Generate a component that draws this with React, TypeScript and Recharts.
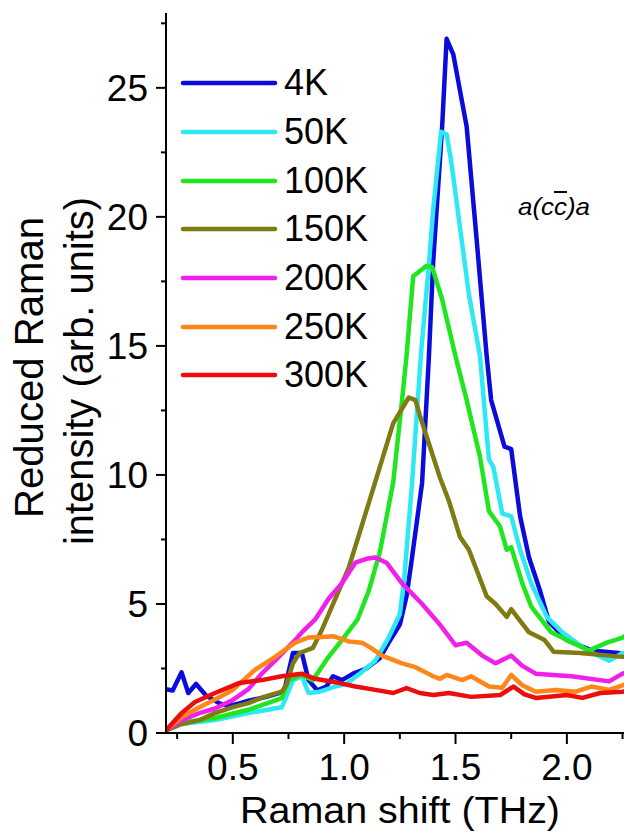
import { Label, Legend, Line, LineChart, XAxis, YAxis } from "recharts"

const FONT = "'Liberation Sans', Arial, sans-serif"

// Raman shift (THz) and reduced intensity
const x4K = [0.2, 0.23, 0.27, 0.3, 0.335, 0.38, 0.44, 0.48, 0.53, 0.57, 0.65, 0.73, 0.77, 0.81, 0.84, 0.88, 0.92, 0.95, 0.99, 1.04, 1.1, 1.16, 1.2, 1.25, 1.28, 1.3, 1.35, 1.38, 1.4, 1.44, 1.46, 1.49, 1.55, 1.59, 1.64, 1.66, 1.72, 1.75, 1.79, 1.83, 1.88, 1.92, 2.0, 2.11, 2.23, 2.27]
const y4K = [1.7, 1.65, 2.35, 1.55, 1.9, 1.45, 1.15, 1.05, 1.15, 1.25, 1.4, 1.6, 3.1, 3.1, 2.05, 1.65, 1.8, 2.2, 2.05, 2.3, 2.5, 2.9, 3.5, 4.2, 5.3, 6.5, 9.7, 14.5, 18.3, 23.5, 26.9, 26.3, 23.5, 19.6, 14.6, 12.9, 11.1, 11.0, 8.4, 6.8, 5.5, 4.3, 3.6, 3.2, 3.1, 3.0]

const x50K = [0.2, 0.27, 0.42, 0.57, 0.72, 0.74, 0.77, 0.81, 0.84, 0.89, 0.96, 1.01, 1.07, 1.14, 1.2, 1.25, 1.27, 1.305, 1.345, 1.38, 1.4, 1.435, 1.46, 1.48, 1.52, 1.56, 1.61, 1.65, 1.67, 1.71, 1.75, 1.79, 1.84, 1.91, 1.98, 2.09, 2.19, 2.25, 2.27]
const y50K = [0.1, 0.35, 0.5, 0.77, 1.0, 1.4, 2.05, 2.2, 1.55, 1.6, 1.8, 1.9, 2.3, 2.8, 3.7, 4.6, 6.0, 9.7, 14.7, 18.1, 20.3, 23.3, 23.2, 22.2, 19.6, 17.0, 14.6, 10.6, 10.3, 8.5, 8.4, 7.1, 5.8, 4.5, 3.9, 3.2, 2.8, 3.1, 3.1]

const x100K = [0.2, 0.27, 0.42, 0.57, 0.72, 0.75, 0.81, 0.86, 0.93, 0.99, 1.06, 1.11, 1.16, 1.22, 1.26, 1.28, 1.31, 1.34, 1.37, 1.395, 1.44, 1.47, 1.5, 1.55, 1.61, 1.65, 1.7, 1.73, 1.75, 1.8, 1.84, 1.93, 2.0, 2.1, 2.18, 2.25, 2.27]
const y100K = [0.1, 0.4, 0.58, 0.9, 1.35, 2.05, 2.25, 2.05, 2.95, 3.6, 4.4, 5.5, 7.0, 9.7, 12.9, 14.6, 17.7, 17.9, 18.1, 18.05, 16.8, 15.7, 14.6, 12.9, 10.7, 8.6, 8.0, 7.1, 7.2, 5.8, 4.9, 3.9, 3.6, 3.2, 3.5, 3.7, 3.8]

const x150K = [0.2, 0.27, 0.35, 0.42, 0.5, 0.57, 0.64, 0.72, 0.74, 0.77, 0.8, 0.86, 0.9, 0.96, 1.02, 1.06, 1.11, 1.16, 1.22, 1.29, 1.32, 1.34, 1.43, 1.47, 1.52, 1.56, 1.64, 1.68, 1.73, 1.75, 1.785, 1.83, 1.9, 1.94, 2.06, 2.25, 2.27]
const y150K = [0.1, 0.35, 0.5, 0.77, 1.0, 1.16, 1.4, 1.6, 1.86, 2.7, 3.1, 3.3, 4.0, 5.2, 6.4, 7.5, 8.9, 10.3, 12.0, 13.0, 12.9, 12.3, 9.9, 9.0, 7.6, 7.1, 5.3, 5.0, 4.5, 4.8, 4.4, 3.9, 3.6, 3.15, 3.1, 2.95, 2.95]

const x200K = [0.2, 0.27, 0.35, 0.42, 0.5, 0.57, 0.63, 0.69, 0.74, 0.78, 0.81, 0.87, 0.93, 0.99, 1.05, 1.1, 1.14, 1.19, 1.26, 1.35, 1.43, 1.5, 1.55, 1.62, 1.68, 1.75, 1.8, 1.86, 2.02, 2.19, 2.25, 2.27]
const y200K = [0.1, 0.5, 0.77, 0.95, 1.28, 1.7, 2.3, 2.8, 3.25, 3.6, 3.9, 4.4, 5.2, 5.8, 6.6, 6.75, 6.8, 6.6, 5.8, 5.0, 4.2, 3.4, 3.5, 3.0, 2.7, 3.0, 2.6, 2.3, 2.2, 2.0, 2.3, 2.35]

const x250K = [0.2, 0.27, 0.35, 0.42, 0.5, 0.6, 0.69, 0.78, 0.84, 0.9, 0.95, 1.02, 1.08, 1.12, 1.17, 1.26, 1.32, 1.4, 1.43, 1.46, 1.53, 1.57, 1.65, 1.71, 1.75, 1.8, 1.86, 1.95, 2.04, 2.11, 2.19, 2.25, 2.27]
const y250K = [0.1, 0.62, 1.0, 1.3, 1.67, 2.45, 2.95, 3.5, 3.7, 3.72, 3.75, 3.55, 3.5, 3.3, 3.0, 2.7, 2.55, 2.2, 2.1, 2.25, 2.05, 2.2, 1.8, 1.75, 2.25, 1.85, 1.6, 1.67, 1.6, 1.8, 1.67, 1.85, 1.9]

const x300K = [0.2, 0.27, 0.33, 0.42, 0.53, 0.63, 0.72, 0.81, 0.87, 0.96, 1.05, 1.14, 1.22, 1.28, 1.34, 1.4, 1.47, 1.57, 1.7, 1.76, 1.81, 1.86, 2.0, 2.07, 2.15, 2.25, 2.27]
const y300K = [0.1, 0.77, 1.2, 1.55, 1.94, 2.05, 2.2, 2.3, 2.1, 1.97, 1.8, 1.67, 1.55, 1.74, 1.55, 1.47, 1.55, 1.4, 1.47, 1.8, 1.5, 1.36, 1.47, 1.36, 1.55, 1.6, 1.62]

const xTicks = [0.25, 0.5, 0.75, 1.0, 1.25, 1.5, 1.75, 2.0, 2.25]
const yTicks = [0, 2.5, 5, 7.5, 10, 12.5, 15, 17.5, 20, 22.5, 25, 27.5]

const toPoints = (xs: number[], ys: number[]) => xs.map((x, i) => ({ x, y: ys[i] }))

const series = [
  { name: "4K", color: "#0b0bdc", data: toPoints(x4K, y4K) },
  { name: "50K", color: "#2ee8f4", data: toPoints(x50K, y50K) },
  { name: "100K", color: "#1fe61f", data: toPoints(x100K, y100K) },
  { name: "150K", color: "#7f7a12", data: toPoints(x150K, y150K) },
  { name: "200K", color: "#f020ea", data: toPoints(x200K, y200K) },
  { name: "250K", color: "#ff8618", data: toPoints(x250K, y250K) },
  { name: "300K", color: "#ec0d0d", data: toPoints(x300K, y300K) },
]

const isMajorX = (v: number) => Math.abs(v * 2 - Math.round(v * 2)) < 1e-6
const isMajorY = (v: number) => Math.abs(v / 5 - Math.round(v / 5)) < 1e-6

function BottomTick({ x, y, payload }: any) {
  const v = payload.value
  const major = isMajorX(v)
  return (
    <g>
      <line x1={x} x2={x} y1={y} y2={y + (major ? 11 : 6)} stroke="#000" strokeWidth={2} />
      {major && (
        <text x={x} y={y + 47} textAnchor="middle" fontSize={37} fontFamily={FONT} fill="#000">
          {v.toFixed(1)}
        </text>
      )}
    </g>
  )
}

function TopTick({ x, y, payload }: any) {
  const major = isMajorX(payload.value)
  return <line x1={x} x2={x} y1={y} y2={y + (major ? 7 : 5)} stroke="#000" strokeWidth={2} />
}

function LeftTick({ x, y, payload }: any) {
  const v = payload.value
  const major = isMajorY(v)
  return (
    <g>
      <line x1={x} x2={x - (major ? 10 : 5)} y1={y} y2={y} stroke="#000" strokeWidth={2} />
      {major && (
        <text x={x - 18} y={y + 13} textAnchor="end" fontSize={37} fontFamily={FONT} fill="#000">
          {v}
        </text>
      )}
    </g>
  )
}

function RightTick({ x, y, payload }: any) {
  const major = isMajorY(payload.value)
  return <line x1={x} x2={x - (major ? 6 : 3)} y1={y} y2={y} stroke="#000" strokeWidth={2} />
}

function XTitle() {
  return (
    <text x={400} y={823} textAnchor="middle" fontSize={36} fontFamily={FONT} fill="#000" textLength={320} lengthAdjust="spacingAndGlyphs">
      Raman shift (THz)
    </text>
  )
}

function YTitle() {
  return (
    <g fontFamily={FONT} fontSize={41} fill="#000">
      <text transform="translate(43,367.5) rotate(-90)" textAnchor="middle" textLength={301} lengthAdjust="spacingAndGlyphs">
        Reduced Raman
      </text>
      <text transform="translate(93,371) rotate(-90)" textAnchor="middle" textLength={348} lengthAdjust="spacingAndGlyphs">
        intensity (arb. units)
      </text>
    </g>
  )
}

function LegendBox() {
  return (
    <div style={{ fontFamily: FONT, fontSize: 36, color: "#000" }}>
      {series.map((s) => (
        <div key={s.name} style={{ display: "flex", alignItems: "center", height: 48.7, lineHeight: "36px" }}>
          <svg width={98} height={8} style={{ display: "block" }}>
            <line x1={3} x2={95} y1={4} y2={4} stroke={s.color} strokeWidth={4.5} strokeLinecap="round" />
          </svg>
          <span style={{ marginLeft: 6, whiteSpace: "nowrap" }}>{s.name}</span>
        </div>
      ))}
    </div>
  )
}

export default function App() {
  return (
    <div style={{ position: "fixed", left: 0, top: 0, width: 624, height: 836, overflow: "hidden", background: "#fff" }}>
      <LineChart width={640} height={836} margin={{ top: 13, right: 13, bottom: 0, left: 0 }}>
        <XAxis
          xAxisId="b"
          type="number"
          dataKey="x"
          domain={[0.2, 2.27]}
          allowDataOverflow
          ticks={xTicks}
          interval={0}
          height={103}
          tickSize={0}
          tickMargin={0}
          tick={BottomTick}
          axisLine={{ stroke: "#000", strokeWidth: 2 }}
          label={<XTitle />}
        />
        <XAxis
          xAxisId="t"
          orientation="top"
          type="number"
          dataKey="x"
          domain={[0.2, 2.27]}
          allowDataOverflow
          ticks={xTicks}
          interval={0}
          height={0}
          tickSize={0}
          tickMargin={0}
          tick={TopTick}
          axisLine={{ stroke: "#000", strokeWidth: 2 }}
        />
        <YAxis
          yAxisId="l"
          type="number"
          domain={[0, 27.9]}
          allowDataOverflow
          ticks={yTicks}
          interval={0}
          width={166}
          tickSize={0}
          tickMargin={0}
          tick={LeftTick}
          axisLine={{ stroke: "#000", strokeWidth: 2 }}
          label={<YTitle />}
        />
        <YAxis
          yAxisId="r"
          orientation="right"
          type="number"
          domain={[0, 27.9]}
          allowDataOverflow
          ticks={yTicks}
          interval={0}
          width={0}
          tickSize={0}
          tickMargin={0}
          tick={RightTick}
          axisLine={{ stroke: "#000", strokeWidth: 2 }}
        />
        <Legend
          layout="vertical"
          align="center"
          verticalAlign="middle"
          content={<LegendBox />}
          wrapperStyle={{ left: 180, top: 59, width: 220 }}
        />
        {series.map((s) => (
          <Line
            key={s.name}
            xAxisId="b"
            yAxisId="l"
            data={s.data}
            dataKey="y"
            name={s.name}
            type="linear"
            stroke={s.color}
            strokeWidth={4.5}
            strokeLinejoin="round"
            dot={false}
            activeDot={false}
            isAnimationActive={false}
          />
        ))}
      </LineChart>
      <div
        style={{
          position: "absolute",
          left: 518,
          top: 195,
          fontFamily: FONT,
          fontStyle: "italic",
          fontSize: 24,
          lineHeight: "24px",
          color: "#000",
          transform: "scaleX(1.08)",
          transformOrigin: "left top",
          whiteSpace: "nowrap",
        }}
      >
        a(c<span style={{ textDecoration: "overline" }}>c</span>)a
      </div>
    </div>
  )
}
